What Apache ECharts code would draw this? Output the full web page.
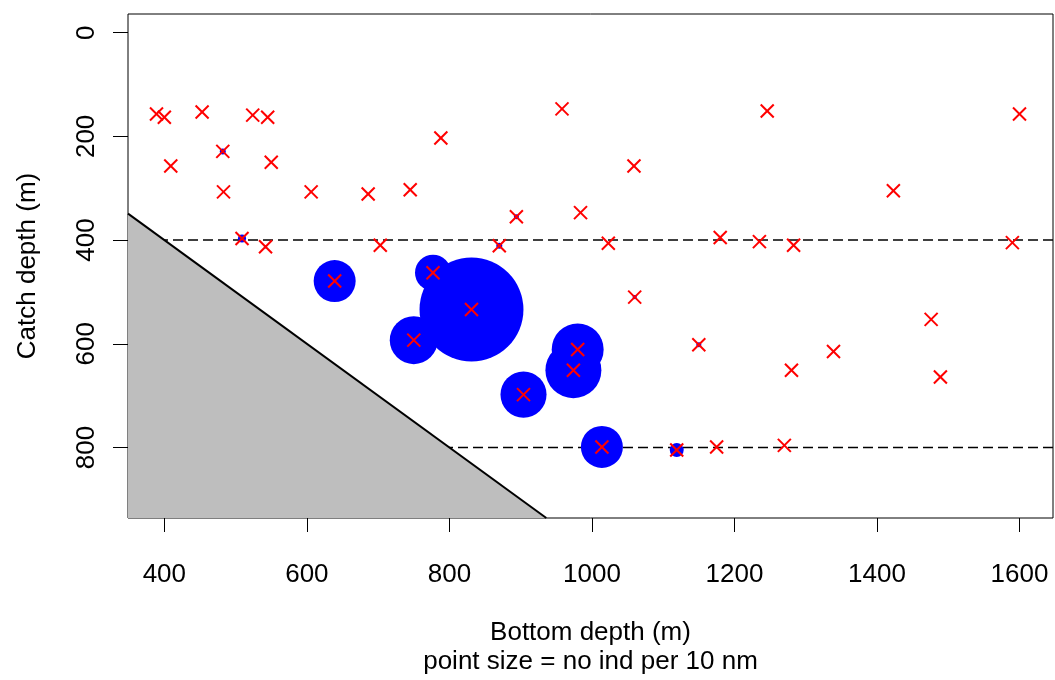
<!DOCTYPE html>
<html><head><meta charset="utf-8">
<script src="https://cdn.jsdelivr.net/npm/echarts@6/dist/echarts.min.js"></script>
<style>html,body{margin:0;padding:0;background:#fff}#c{width:1055px;height:680px}</style>
</head><body><div id="c"></div>
<script>
// Station data: bottom depth (m), catch depth (m), number of individuals per 10 nm
const bottomDepth = [389, 400, 453, 524, 545, 958, 1246, 1600,
  482, 788, 1059, 409, 550,
  483, 606, 686, 745, 1423,
  894, 984,
  509, 542, 703, 870, 1023, 1180, 1235, 1283, 1590,
  639, 777, 831, 750, 980, 974, 904, 1014, 1119,
  1060, 1150, 1175, 1270, 1339, 1280, 1476, 1489];
const catchDepth = [157, 163, 153, 159, 163, 147, 151, 157,
  229, 203, 257, 257, 250,
  307, 307, 311, 303, 305,
  355, 347,
  397, 413, 410, 411, 406, 395, 403, 410, 405,
  479, 463, 534, 593, 611, 651, 698, 799, 805,
  510, 602, 799, 796, 615, 651, 553, 664];
const indPer10nm = [0, 0, 0, 0, 0, 0, 0, 0,
  1, 0, 0, 0, 0,
  0, 0, 0, 0, 0,
  0.7, 0,
  1.8, 0.3, 0, 1, 0, 0, 0, 0, 0,
  49, 36, 300, 64, 75, 87, 59, 49, 5.4,
  0.5, 0.7, 0, 0, 0.2, 0, 0, 0];
const xTicks = [400, 600, 800, 1000, 1200, 1400, 1600];
const yTicks = [0, 200, 400, 600, 800];
const dashedDepths = [400, 800];
const xRange = [349, 1647];
const yRange = [-36, 936];

const FONT = '"Liberation Sans", Arial, sans-serif';
const stations = bottomDepth.map((b, i) => [b, catchDepth[i], indPer10nm[i]]);
const catches = stations.filter(s => s[2] > 0);
// region where catch depth exceeds bottom depth (catch = bottom line)
const poly = [[xRange[0], xRange[0]], [yRange[1], yRange[1]], [xRange[0], yRange[1]]];

const series = [];
dashedDepths.forEach(d => {
  series.push({
    type: 'line', data: [[xRange[0], d], [xRange[1], d]], showSymbol: false, silent: true,
    lineStyle: {color: '#000', width: 1.5, type: [10, 5]}, z: 1
  });
});
series.push({
  type: 'custom', data: [poly[0]], silent: true, z: 2,
  renderItem: (params, api) => {
    const pts = poly.map(p => api.coord(p));
    return {type: 'polygon', shape: {points: pts}, style: {fill: '#bebebe', stroke: null}};
  }
});
series.push({
  type: 'line', data: [poly[0], poly[1]], showSymbol: false, silent: true, z: 3,
  lineStyle: {color: '#000', width: 2}
});
series.push({
  type: 'scatter', data: catches, z: 4, silent: true,
  symbolSize: v => 6 * Math.sqrt(v[2]),
  itemStyle: {color: '#0000ff', opacity: 1}
});
series.push({
  type: 'custom', data: stations, z: 5, silent: true,
  renderItem: (params, api) => {
    const p = api.coord([api.value(0), api.value(1)]);
    const h = 6.5;
    const st = {stroke: '#ff0000', lineWidth: 2};
    return {type: 'group', children: [
      {type: 'line', shape: {x1: p[0] - h, y1: p[1] - h, x2: p[0] + h, y2: p[1] + h}, style: st},
      {type: 'line', shape: {x1: p[0] - h, y1: p[1] + h, x2: p[0] + h, y2: p[1] - h}, style: st}
    ]};
  }
});

const chart = echarts.init(document.getElementById('c'), null, {renderer: 'canvas'});
chart.setOption({
  animation: false,
  backgroundColor: '#fff',
  grid: {left: 128, top: 14, right: 2, bottom: 162, show: true, borderColor: '#000', borderWidth: 1,
    backgroundColor: 'transparent', containLabel: false, outerBoundsMode: 'none'},
  xAxis: {
    type: 'value', min: xRange[0], max: xRange[1], position: 'bottom',
    axisLine: {show: false, onZero: false}, splitLine: {show: false},
    axisTick: {show: true, length: 14, customValues: xTicks, lineStyle: {color: '#000', width: 1}},
    axisLabel: {customValues: xTicks, fontSize: 26, color: '#000', margin: 44, fontFamily: FONT,
      formatter: v => String(v)},
    name: 'Bottom depth (m)\npoint size = no ind per 10 nm', nameLocation: 'middle', nameGap: 100,
    nameTextStyle: {fontSize: 26, lineHeight: 29, color: '#000', fontFamily: FONT}
  },
  yAxis: {
    type: 'value', inverse: true, min: yRange[0], max: yRange[1], position: 'left',
    axisLine: {show: false, onZero: false}, splitLine: {show: false},
    axisTick: {show: true, length: 15, customValues: yTicks, lineStyle: {color: '#000', width: 1}},
    axisLabel: {customValues: yTicks, fontSize: 26, color: '#000', margin: 28, rotate: 90, fontFamily: FONT,
      formatter: v => String(v)},
    name: 'Catch depth (m)', nameLocation: 'middle', nameGap: 87,
    nameTextStyle: {fontSize: 26, color: '#000', fontFamily: FONT}
  },
  series: series
});
</script></body></html>
